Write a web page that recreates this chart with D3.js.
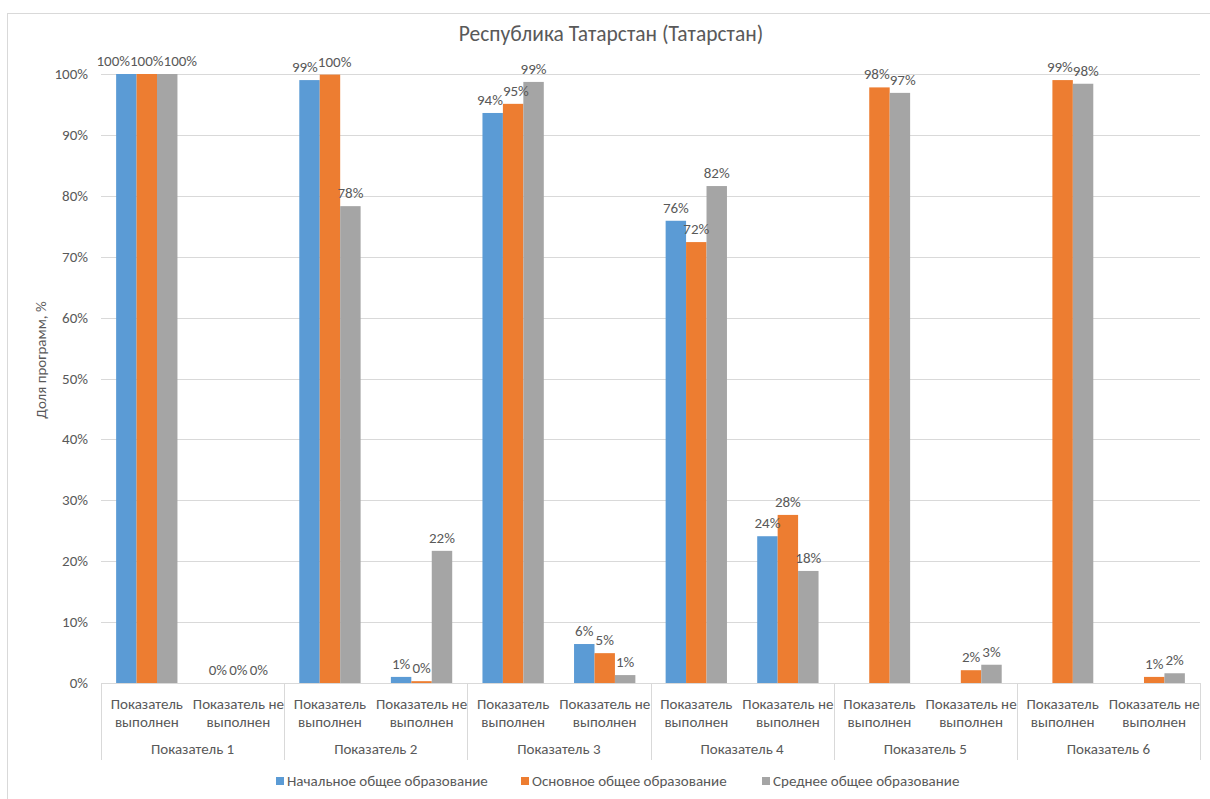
<!DOCTYPE html>
<html>
<head>
<meta charset="utf-8">
<title>Республика Татарстан</title>
<style>
  body { margin: 0; background: #fff; }
  text { font-family: Carlito, Lato, "Liberation Sans", sans-serif; fill: #595959; }
</style>
</head>
<body>
<div id="container"></div>
<script src="https://cdn.jsdelivr.net/npm/d3@7"></script>
<script>
// data
var groups = ["Показатель 1", "Показатель 2", "Показатель 3", "Показатель 4", "Показатель 5", "Показатель 6"];
var subcats = ["Показатель выполнен", "Показатель не выполнен"];
var series = ["Начальное общее образование", "Основное общее образование", "Среднее общее образование"];
var colors = ["#5B9BD5", "#ED7D31", "#A5A5A5"];
// one value per (group, subcat) pair, in order; null = no bar
var nachalnoe = [100, 0, 99.0, 1.0, 93.6, 6.4, 75.9, 24.1, null, null, null, null];
var osnovnoe  = [100, 0, 99.9, 0.3, 95.1, 4.9, 72.4, 27.6, 97.8, 2.1, 99.0, 1.0];
var srednee   = [100, 0, 78.3, 21.7, 98.7, 1.3, 81.6, 18.4, 96.9, 3.0, 98.4, 1.6];
var yTicks = [0, 10, 20, 30, 40, 50, 60, 70, 80, 90, 100];

var values = [nachalnoe, osnovnoe, srednee];
var W = 1210, H = 799;
var margin = {top: 74, left: 101, right: 10, bottom: 116};
var plotW = W - margin.left - margin.right, plotH = H - margin.top - margin.bottom;
var fs = "15px";

var svg = d3.select("#container").append("svg")
  .attr("width", W).attr("height", H);

svg.append("rect").attr("x", 7.5).attr("y", 13.5).attr("width", W).attr("height", H)
  .attr("fill", "none").attr("stroke", "#d9d9d9");

svg.append("text").attr("x", 611).attr("y", 41).attr("text-anchor", "middle")
  .style("font-size", "21.5px").text("Республика Татарстан (Татарстан)");

var g = svg.append("g").attr("transform", "translate(" + margin.left + "," + margin.top + ")");

var keys = [];
groups.forEach(function(gr, i) { subcats.forEach(function(s, j) { keys.push(i * 2 + j); }); });
var x0 = d3.scaleBand().domain(keys).range([0, plotW]);
var x1 = d3.scaleBand().domain(d3.range(series.length)).range([0, x0.bandwidth()]).paddingInner(0).paddingOuter(0.74);
var y = d3.scaleLinear().domain([0, 100]).range([plotH, 0]);

// grid
g.selectAll(".grid").data(yTicks.slice(1)).enter().append("line")
  .attr("x1", 0).attr("x2", plotW)
  .attr("y1", function(d) { return Math.round(y(d)) + 0.5; })
  .attr("y2", function(d) { return Math.round(y(d)) + 0.5; })
  .attr("stroke", "#d9d9d9");

g.selectAll(".ytick").data(yTicks).enter().append("text")
  .attr("x", -13).attr("y", function(d) { return y(d) + 5; })
  .attr("text-anchor", "end").style("font-size", fs)
  .text(function(d) { return d + "%"; });

svg.append("text").attr("transform", "translate(46,360) rotate(-90)")
  .attr("text-anchor", "middle").style("font-size", fs).text("Доля программ, %");

// bars
var labels = [];
series.forEach(function(s, si) {
  values[si].forEach(function(v, k) {
    if (v === null) return;
    g.append("rect")
      .attr("x", x0(k) + x1(si)).attr("width", x1.bandwidth())
      .attr("y", y(v)).attr("height", plotH - y(v))
      .attr("fill", colors[si]);
    labels.push({k: k, si: si, v: v, cx: x0(k) + x1(si) + x1.bandwidth() / 2, cy: y(v) - 8});
  });
});

// labels, pushed apart when they collide
var lab = g.selectAll(".lab").data(labels).enter().append("text")
  .style("font-size", fs).attr("text-anchor", "middle")
  .text(function(d) { return Math.round(d.v) + "%"; });
lab.each(function(d) { d.w = this.getComputedTextLength(); });
d3.groups(labels, function(d) { return d.k; }).forEach(function(p) {
  var arr = p[1];
  for (var it = 0; it < 20; it++) {
    for (var i = 1; i < arr.length; i++) {
      var a = arr[i - 1], b = arr[i];
      var need = (a.w + b.w) / 2 - (b.cx - a.cx);
      if (need > 0 && Math.abs(a.cy - b.cy) < 14) { a.cx -= need / 2; b.cx += need / 2; }
    }
  }
});
lab.attr("x", function(d) { return d.cx; }).attr("y", function(d) { return d.cy; });

// x axis
g.append("line").attr("x1", 0).attr("x2", plotW).attr("y1", plotH + 0.5).attr("y2", plotH + 0.5).attr("stroke", "#d9d9d9");
g.selectAll(".sep").data(d3.range(groups.length + 1)).enter().append("line")
  .attr("x1", function(i) { return Math.round(i * 2 * x0.step()) + 0.5; })
  .attr("x2", function(i) { return Math.round(i * 2 * x0.step()) + 0.5; })
  .attr("y1", plotH).attr("y2", plotH + 77).attr("stroke", "#d9d9d9");

keys.forEach(function(k) {
  var t = g.append("text").attr("text-anchor", "middle").style("font-size", fs)
    .attr("transform", "translate(" + (x0(k) + x0.bandwidth() / 2) + "," + (plotH + 26) + ")");
  var words = k % 2 === 0 ? ["Показатель", "выполнен"] : ["Показатель не", "выполнен"];
  words.forEach(function(w, i) { t.append("tspan").attr("x", 0).attr("dy", i ? 18 : 0).text(w); });
});
groups.forEach(function(gr, i) {
  g.append("text").attr("text-anchor", "middle").style("font-size", fs)
    .attr("x", (i * 2 + 1) * x0.step()).attr("y", plotH + 71).text(gr);
});

// legend
var lx = [276, 521, 762];
series.forEach(function(s, i) {
  svg.append("rect").attr("x", lx[i]).attr("y", 777).attr("width", 8).attr("height", 8).attr("fill", colors[i]);
  svg.append("text").attr("x", lx[i] + 11).attr("y", 786).style("font-size", fs).text(s);
});
</script>
</body>
</html>
